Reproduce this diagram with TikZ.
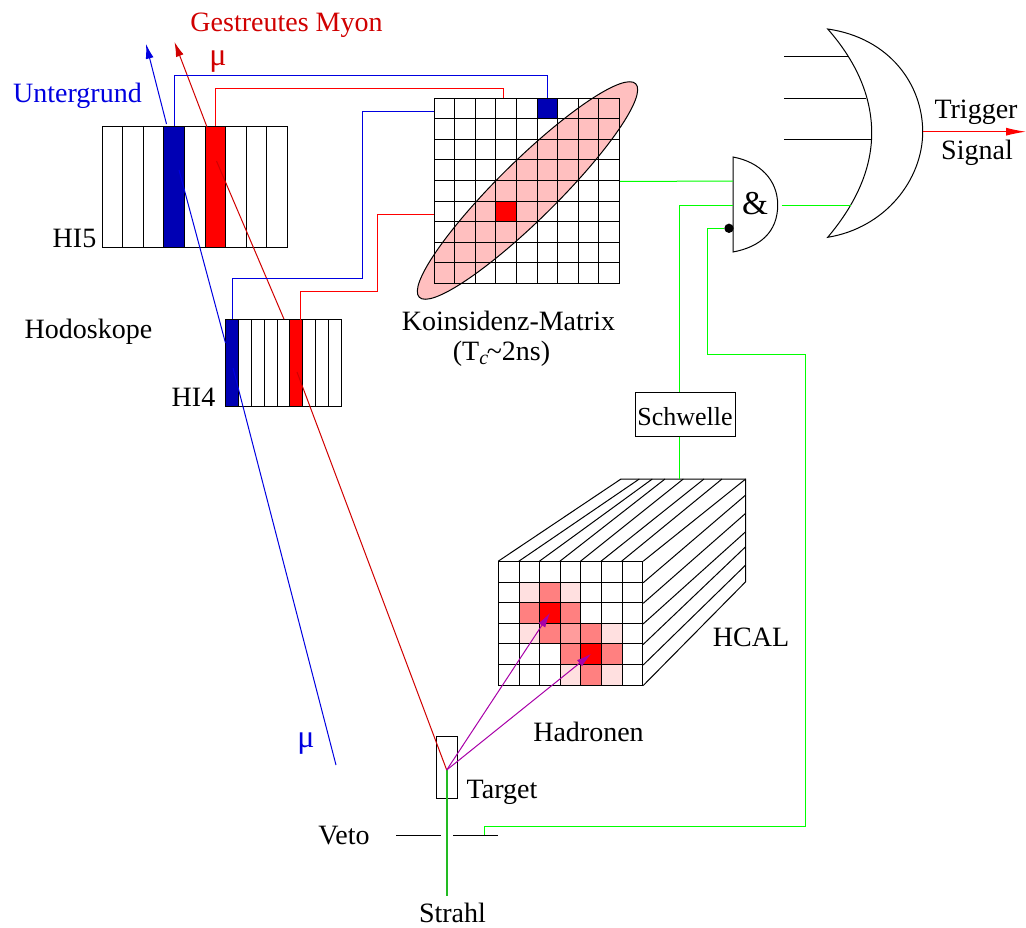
\documentclass[tikz,border=0pt]{standalone}
\usepackage{fontspec}
\setmainfont{Liberation Serif}
\usepackage{tikz}
\usetikzlibrary{positioning,matrix,arrows.meta,shapes.geometric}
\definecolor{darkblue}{HTML}{0000B4}
\definecolor{wireblue}{HTML}{0000E0}
\definecolor{textred}{HTML}{D00000}
\definecolor{palered}{HTML}{FFE0E0}
\definecolor{midred}{HTML}{FF8080}
\definecolor{softred}{HTML}{FF9C9C}
\definecolor{bandred}{HTML}{FFBFBF}
\definecolor{hadron}{HTML}{A800A8}
\definecolor{beamgreen}{HTML}{22BB22}
\tikzset{r/.style={fill=red}}
\tikzset{b/.style={fill=darkblue}}
\tikzset{p/.style={fill=palered}}
\tikzset{m/.style={fill=midred}}
\tikzset{s/.style={fill=softred}}
\tikzset{boardstyle/.style 2 args={matrix of nodes,
        nodes in empty cells,
        inner sep=0pt,
        row sep=-\pgflinewidth,
        column sep=-\pgflinewidth,
        nodes={draw,inner sep=0pt,minimum width=#1,minimum height=#2,anchor=center}}}
\tikzset{lbl/.style={font=\fontsize{21}{24}\selectfont,inner sep=0pt,anchor=base}}
\tikzset{mulbl/.style={font=\fontsize{24}{24}\selectfont,inner sep=0pt,anchor=base}}
\tikzset{bluewire/.style={draw=wireblue}}
\tikzset{redwire/.style={draw=red}}
\tikzset{greenwire/.style={draw=green}}
\tikzset{bluetrack/.style={draw=wireblue}}
\tikzset{redtrack/.style={draw=textred}}
\tikzset{hadronarrow/.style={draw=hadron,-{Latex[length=11pt,width=6pt]}}}

\begin{document}
\begin{tikzpicture}[x=0.75pt,y=-0.75pt,line width=0.75pt]
    \useasboundingbox (0,0) rectangle (1026,928);

    % Koinzidenz
    \node[ellipse,draw,fill=bandred,inner sep=0pt,minimum width=228pt,minimum height=44pt,rotate=44.6] (band) at (527.5,190.5) {};
    \matrix[boardstyle={15.45pt}{15.45pt}] (koinz) at (526.85,190.8) {
        & & & & & |[b]|& & & \\
        & & & & & & & & \\
        & & & & & & & & \\
        & & & & & & & & \\
        & & & & & & & & \\
        & & & |[r]|& & & & & \\
        & & & & & & & & \\
        & & & & & & & & \\
        & & & & & & & & \\
        };

    % Hodoskope
    \matrix[boardstyle={15.45pt}{90.5pt}] (hifive) at (194.7,187.2) {
        & & & |[b]|& & |[r]|& & & \\
        };
    \matrix[boardstyle={9.63pt}{65.5pt}] (hifour) at (283.5,363.3) {
        |[b]|& & & & & |[r]|& & & \\
        };

    % HCAL
    \matrix[boardstyle={15.42pt}{15.42pt}] (hcal) at (570.7,623.4) {
        & & & & & & \\
        & |[p]|& |[m]|& |[p]|& & & \\
        & |[m]|& |[r]|& |[m]|& & & \\
        & |[p]|& |[m]|& |[s]|& |[m]|& |[p]|& \\
        & & & |[m]|& |[r]|& |[m]|& \\
        & & & |[p]|& |[m]|& |[p]|& \\
        };
    \coordinate (backleft) at (621,479);
    \coordinate (backright) at (745.7,479);
    \coordinate (backbottom) at (745.7,581.7);
    \draw (backleft) -- (backright) -- (backbottom) -- (hcal-6-7.south east);
    \foreach \col/\x in {1/621,2/639.3,3/652.3,4/665,5/683.3,6/704,7/722}
        \draw (hcal-1-\col.north west) -- (\x,479);
    \draw (hcal-1-7.north east) -- (backright);
    \foreach \row/\y in {1/495,2/513.3,3/531.7,4/546.7,5/565}
        \draw (hcal-\row-7.south east) -- (745.7,\y);

    % Target, Schwelle
    \node[draw,inner sep=0pt,minimum width=15.45pt,minimum height=46.2pt] (target) at (447,767.5) {};
    \node[draw,inner sep=0pt,minimum width=75pt,minimum height=33pt,text height=16.5pt,text depth=0pt,font=\fontsize{19.5}{22}\selectfont] (schwelle) at (685,414) {Schwelle};
    \coordinate (vertex) at (446.7,770);
    \coordinate (beamend) at (446.7,896);
    \coordinate (vetoa) at (396,835);
    \coordinate (vetob) at (440.7,835);
    \coordinate (vetoc) at (453.3,835);
    \coordinate (vetod) at (498,835);
    \draw (vetoa) -- (vetob);
    \draw (vetoc) -- (vetod);
    \draw[draw=beamgreen,line width=1.3pt] (vertex) -- (beamend);

    % Spuren
    \draw[bluetrack] (336,765) -- (233,368);
    \draw[bluetrack] (225.5,343) -- (179,170);
    \draw[bluetrack,-{Latex[length=11pt,width=6pt]}] (166.5,124) -- (146,44);
    \draw[redtrack] (vertex) -- (297,372);
    \draw[redtrack] (hifour-1-5.north) ++(0.5,0) -- (216.5,161);
    \draw[redtrack,-{Latex[length=11pt,width=6pt]}] (207,127) -- (174.5,42);
    \draw[hadronarrow] (vertex) -- (550,613);
    \draw[hadronarrow] (vertex) -- (591,654);

    % Gatter
    \coordinate (orin) at (827.7,29);
    \coordinate (orout) at (922.7,131.7);
    \draw[fill=white] (orin) .. controls (890,38) and (922.7,85) .. (orout)
        .. controls (922.7,180) and (885,228) .. (827.7,237.3)
        .. controls (855,205) and (871.7,170) .. (871.7,133)
        .. controls (871.7,95) and (855,60) .. (orin) -- cycle;
    \draw (784.3,56.7) -- (847.7,56.7);
    \draw (784.3,98) -- (866,98);
    \draw (784.3,139.3) -- (871.7,139.3);
    \coordinate (andtop) at (733,157);
    \coordinate (andbot) at (733,252);
    \draw[fill=white] (andtop) .. controls (760,162) and (777.7,180) .. (777.7,205)
        .. controls (777.7,232) and (760,247) .. (andbot) -- cycle;
    \node[circle,fill=black,inner sep=0pt,minimum size=7pt] (bubble) at (729,228.3) {};
    \draw[redwire,-{Latex[length=15pt,width=6pt]}] (orout) -- (1026,131.7);

    % Leitungen
    \draw[bluewire] (hifive-1-4.north) -- (hifive-1-4.north |- 0,75.4) -- (koinz-1-6.north |- 0,75.4) -- (koinz-1-6.north);
    \draw[redwire] (hifive-1-6.north) -- (hifive-1-6.north |- 0,88) -- (503.7,88) -- (503.7,98.3);
    \draw[bluewire] (hifour-1-1.north) -- (hifour-1-1.north |- 0,278) -- (362.3,278) -- (362.3,111) -- (koinz-1-1.west |- 0,111);
    \draw[redwire] (300,319.7) -- (300,291) -- (377.3,291) -- (377.3,214) -- (koinz-1-1.west |- 0,214);
    \draw[greenwire] (koinz-4-9.south east) ++(0,0.4) -- (733,181.1);
    \draw[greenwire] (schwelle.north -| 679.4,0) -- (679.4,205.4) -- (733,205.4);
    \draw[greenwire] (schwelle.south -| 679.4,0) -- (679.4,479);
    \draw[greenwire] (781.7,205.4) -- (851,205.4);
    \draw[greenwire] (bubble) -- (707,228.3) -- (707,354) -- (805,354) -- (805,826) -- (484.7,826) -- (484.7,835);

    % Texte
    \node[lbl,text=textred] (gestreut) at (286.5,31.5) {Gestreutes Myon};
    \node[mulbl,text=textred] (muout) at (218,65) {μ};
    \node[lbl,text=wireblue] (untergrund) at (77.5,102) {Untergrund};
    \node[mulbl,text=wireblue] (muin) at (306,747) {μ};
    \node[lbl] (hifivetext) at (74.5,247) {HI5};
    \node[lbl] (hifourtext) at (193.5,406) {HI4};
    \node[lbl] (hodoskope) at (88.5,338) {Hodoskope};
    \node[lbl] (koinztext) at (508.5,330) {Koinsidenz-Matrix};
    \node[lbl] (tctext) at (501.5,360) {(T\raisebox{-0.35ex}{\fontsize{15}{15}\selectfont\itshape c}\kern-1pt\textasciitilde 2ns)};
    \node[lbl,font=\fontsize{25}{28}\selectfont] (andtext) at (755,214) {\&};
    \node[lbl] (trigger) at (976,118.5) {Trigger};
    \node[lbl] (signal) at (977,159) {Signal};
    \node[lbl] (hcaltext) at (751,646.5) {HCAL};
    \node[lbl] (hadronen) at (588.5,741) {Hadronen};
    \node[lbl] (targettext) at (502,798) {Target};
    \node[lbl] (veto) at (344,844) {Veto};
    \node[lbl] (strahl) at (452.5,922) {Strahl};
\end{tikzpicture}
\end{document}
